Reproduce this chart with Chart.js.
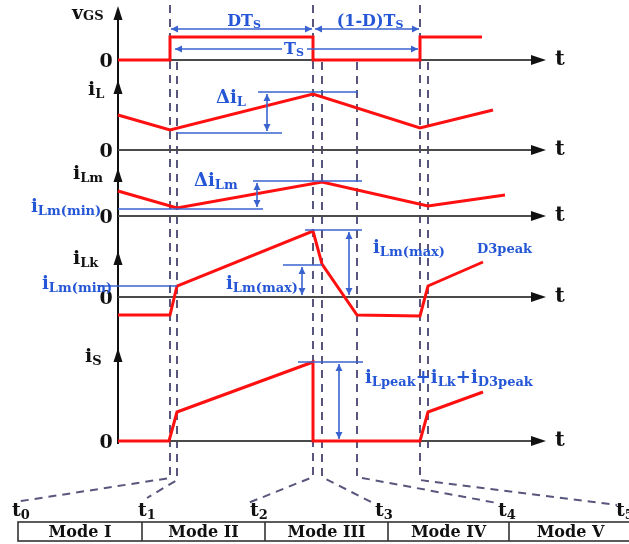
<!DOCTYPE html>
<html><head><meta charset="utf-8">
<script src="https://cdn.jsdelivr.net/npm/chart.js@4/dist/chart.umd.min.js"></script>
<style>html,body{margin:0;padding:0;background:#fff;overflow:hidden}canvas{display:block}</style>
</head><body>
<canvas id="c" width="629" height="544"></canvas>
<script>
// ---- data (time in diagram units from the axis origin; levels measured up from each panel's zero) ----
const modes = ['Mode I', 'Mode II', 'Mode III', 'Mode IV', 'Mode V'];
const instants = ['0', '1', '2', '3', '4', '5'];
const panelNames = ['vGS', 'iL', 'iLm', 'iLk', 'iS'];
const vgsTime = [0, 52, 52, 195, 195, 302, 302, 364];
const vgsLevel = [0, 0, 23, 23, 0, 0, 23, 23];
const iLTime = [0, 52, 195, 302, 375];
const iLLevel = [35, 20, 56, 22, 40];
const iLmTime = [0, 59, 204, 310, 387];
const iLmLevel = [25, 8, 34, 10, 21];
const iLkTime = [0, 52, 59, 195, 204, 239, 302, 310, 365];
const iLkLevel = [-18, -18, 11, 66, 33, -18, -19, 11, 35];
const iSTime = [0, 51, 59, 195, 195, 302, 310, 365];
const iSLevel = [0, 0, 29, 79, 0, 0, 29, 49];

// ---- layout ----
const panelZero = [60, 150, 216, 297, 441];
const RED = '#ff1010', BLUE = '#2456d6', BLINE = '#3a63cf', DASH = '#58567c', AX = '#4a4a4a';
const SERIF = '"DejaVu Serif"';

function wave(p, T, L) { return T.map((t, i) => ({x: t, y: -panelZero[p] + L[i]})); }
const series = [[vgsTime, vgsLevel], [iLTime, iLLevel], [iLmTime, iLmLevel], [iLkTime, iLkLevel], [iSTime, iSLevel]];
const datasets = [];
series.forEach((s, p) => datasets.push({
  label: panelNames[p], data: wave(p, s[0], s[1]), borderColor: RED, borderWidth: 3,
  showLine: true, pointRadius: 0, fill: false, tension: 0, borderJoinStyle: 'miter'
}));
// time axes
panelZero.forEach(z => datasets.push({
  data: [{x: 0, y: -z}, {x: 414, y: -z}], borderColor: AX, borderWidth: 2,
  showLine: true, pointRadius: 0, fill: false
}));
// vertical axis
datasets.push({data: [{x: 0, y: -10}, {x: 0, y: -444}], borderColor: '#111', borderWidth: 2, showLine: true, pointRadius: 0});
// dashed instant markers with leaders to the mode table
const dashLines = [
  [[52, -5], [52, -478], [-103, -502]],
  [[59, -62], [59, -480], [29, -498]],
  [[195, -5], [195, -477], [130, -503]],
  [[204, -62], [204, -477], [255, -503]],
  [[239, -62], [239, -477], [379, -503]],
  [[302, -5], [302, -480], [499, -505]],
  [[310, -62], [310, -452]]
];
dashLines.forEach(l => datasets.push({
  data: l.map(q => ({x: q[0], y: q[1]})), borderColor: DASH, borderWidth: 2, borderDash: [8, 6],
  showLine: true, pointRadius: 0, fill: false, tension: 0
}));

const overlay = {
  id: 'overlay',
  beforeDraw(chart) {
    const c = chart.ctx; c.save(); c.fillStyle = '#fff'; c.fillRect(0, 0, chart.width, chart.height); c.restore();
  },
  afterDatasetsDraw(chart) {
    const c = chart.ctx, xs = chart.scales.x, ys = chart.scales.y;
    const X = v => xs.getPixelForValue(v - 118), Y = v => ys.getPixelForValue(-v);
    c.save();
    function tri(ax, ay, bx, by, cx, cy, col) {
      c.fillStyle = col; c.beginPath(); c.moveTo(X(ax), Y(ay)); c.lineTo(X(bx), Y(by)); c.lineTo(X(cx), Y(cy)); c.closePath(); c.fill();
    }
    function head(x, y, dir, col, len, hw) {
      if (dir === 'r') tri(x, y, x - len, y - hw, x - len, y + hw, col);
      if (dir === 'l') tri(x, y, x + len, y - hw, x + len, y + hw, col);
      if (dir === 'u') tri(x, y, x - hw, y + len, x + hw, y + len, col);
      if (dir === 'd') tri(x, y, x - hw, y - len, x + hw, y - len, col);
    }
    function line(x1, y1, x2, y2, col, w) {
      c.strokeStyle = col; c.lineWidth = w; c.beginPath(); c.moveTo(X(x1), Y(y1)); c.lineTo(X(x2), Y(y2)); c.stroke();
    }
    // axis arrowheads
    panelZero.forEach(z => head(546, z, 'r', '#111', 15, 5));
    [6, 80, 168, 251, 348].forEach(y => head(118, y, 'u', '#111', 14, 4.5));
    // blue annotations
    const bl = (a, b, cc, d) => line(a, b, cc, d, BLINE, 1.6);
    const bh = (x, y, dir) => head(x, y, dir, BLINE, 7, 3.5);
    bl(171, 29, 312, 29); bh(171, 29, 'l'); bh(312, 29, 'r');
    bl(315, 29, 419, 29); bh(315, 29, 'l'); bh(419, 29, 'r');
    bl(175, 49, 282, 49); bl(307, 49, 418, 49); bh(175, 49, 'l'); bh(418, 49, 'r');
    bl(258, 92, 358, 92); bl(177, 133, 282, 133); bl(267, 94, 267, 131); bh(267, 94, 'u'); bh(267, 131, 'd');
    bl(118, 209, 263, 209); bl(253, 181, 362, 181); bl(257, 183, 257, 207); bh(257, 183, 'u'); bh(257, 207, 'd');
    bl(100, 286, 177, 286); bl(305, 230, 362, 230); bl(349, 232, 349, 295); bh(349, 232, 'u'); bh(349, 295, 'd');
    bl(283, 265, 322, 265); bl(302, 267, 302, 295); bh(302, 267, 'u'); bh(302, 295, 'd');
    bl(298, 362, 363, 362); bl(339, 364, 339, 439); bh(339, 364, 'u'); bh(339, 439, 'd');

    function rich(x, y, parts, align, col) {
      let w = 0;
      parts.forEach(p => { c.font = 'bold ' + p[1] + 'px ' + SERIF; w += c.measureText(p[0]).width; });
      let cx = align === 'center' ? X(x) - w / 2 : X(x);
      c.fillStyle = col; c.textAlign = 'left'; c.textBaseline = 'alphabetic';
      parts.forEach(p => {
        c.font = 'bold ' + p[1] + 'px ' + SERIF;
        c.fillText(p[0], cx, Y(y + (p[2] || 0)));
        cx += c.measureText(p[0]).width;
      });
    }
    // black labels
    const K = '#111';
    rich(72, 19, [['v', 19], ['GS', 13, 1]], 'left', K);
    rich(88, 95, [['i', 19], ['L', 13, 3]], 'left', K);
    rich(73, 179, [['i', 19], ['Lm', 13, 3]], 'left', K);
    rich(73, 264, [['i', 19], ['Lk', 13, 3]], 'left', K);
    rich(85, 362, [['i', 19], ['S', 13, 3]], 'left', K);
    panelZero.forEach(z => { rich(106, z + 7, [['0', 19]], 'center', K); rich(555, z + 5, [['t', 21]], 'left', K); });
    // blue labels
    rich(244, 26, [['DT', 16], ['S', 11, 2]], 'center', BLUE);
    rich(370, 26, [['(1-D)T', 16], ['S', 11, 2]], 'center', BLUE);
    rich(294, 54, [['T', 16], ['S', 11, 2]], 'center', BLUE);
    rich(216, 103, [['\u0394i', 18], ['L', 13, 3]], 'left', BLUE);
    rich(194, 186, [['\u0394i', 18], ['Lm', 13, 3]], 'left', BLUE);
    rich(31, 212, [['i', 18], ['Lm(min)', 13, 3]], 'left', BLUE);
    rich(42, 289, [['i', 18], ['Lm(min)', 13, 3]], 'left', BLUE);
    rich(226, 289, [['i', 18], ['Lm(max)', 13, 3]], 'left', BLUE);
    rich(373, 253, [['i', 18], ['Lm(max)', 13, 3]], 'left', BLUE);
    rich(477, 253, [['D3peak', 13]], 'left', BLUE);
    rich(365, 383, [['i', 18], ['Lpeak', 13, 3], ['+i', 18], ['Lk', 13, 3], ['+i', 18], ['D3peak', 13, 3]], 'left', BLUE);
    // instants
    const instX = [12, 138, 250, 375, 498, 616];
    instants.forEach((s, i) => rich(instX[i], 516, [['t', 19], [s, 13, 3]], 'left', K));
    // mode table
    const edges = [18, 142, 265, 388, 509, 640];
    c.strokeStyle = '#333'; c.lineWidth = 1.6;
    c.strokeRect(X(18), Y(522), X(640) - X(18), Y(541) - Y(522));
    edges.slice(1, 5).forEach(e => line(e, 522, e, 541, '#333', 1.6));
    modes.forEach((m, i) => rich((edges[i] + Math.min(edges[i + 1], 632)) / 2, 537, [[m, 16]], 'center', K));
    c.restore();
  }
};

new Chart(document.getElementById('c'), {
  type: 'scatter',
  data: {datasets},
  options: {
    responsive: false, animation: false, devicePixelRatio: 1,
    layout: {padding: 0},
    scales: {
      x: {type: 'linear', display: false, min: -118, max: 511},
      y: {type: 'linear', display: false, min: -544, max: 0}
    },
    plugins: {legend: {display: false}, tooltip: {enabled: false}}
  },
  plugins: [overlay]
});
</script>
</body></html>
